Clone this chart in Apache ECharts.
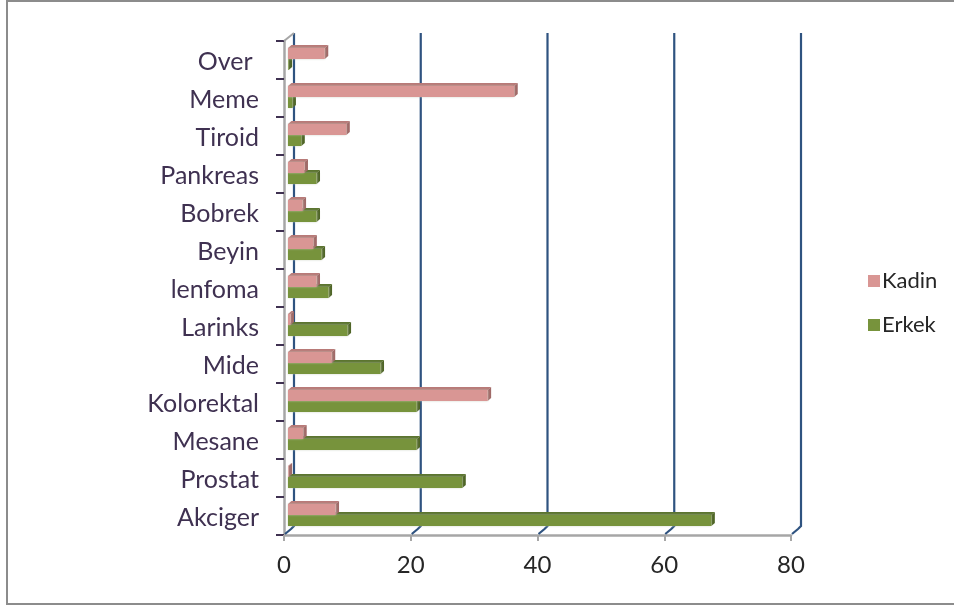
<!DOCTYPE html>
<html><head><meta charset="utf-8">
<style>html,body{margin:0;padding:0;background:#fff}#c{width:954px;height:605px}</style>
<script src="https://cdn.jsdelivr.net/npm/echarts@6/dist/echarts.min.js"></script>
</head><body><div id="c"></div>
<script>
const categories = ['Akciger','Prostat','Mesane','Kolorektal','Mide','Larinks','lenfoma','Beyin','Bobrek','Pankreas','Tiroid','Meme','Over '];
const kadin = [7.5,0.1,2.4,31.5,6.9,0.4,4.5,4.0,2.3,2.6,9.2,35.7,5.8];
const erkek = [66.8,27.5,20.3,20.3,14.6,9.4,6.4,5.3,4.5,4.5,2.1,0.7,0.1];
const ticks = [0,20,40,60,80];

const chart = echarts.init(document.getElementById('c'));
function bar(front, top, side, dy){
  return function(params, api){
    const v = api.value(0), c = api.value(1);
    const p0 = api.coord([0,c]), p1 = api.coord([v,c]);
    const x0 = p0[0]+4, x1 = p1[0]+4, h = 11, y0 = p0[1]+dy, dx = 3.5, d = 3;
    return {type:'group', children:[
      {type:'polygon', shape:{points:[[x0,y0],[x0+dx,y0-d],[x1+dx,y0-d],[x1,y0]]}, style:{fill:top}},
      {type:'polygon', shape:{points:[[x1,y0],[x1+dx,y0-d],[x1+dx,y0+h-d],[x1,y0+h]]}, style:{fill:side}},
      {type:'rect', shape:{x:x0,y:y0,width:x1-x0,height:h}, style:{fill:front, shadowBlur:2, shadowColor:'rgba(200,205,190,0.8)'}}
    ]};
  };
}
function walls(params, api){
  const g = params.coordSys, x = api.coord([api.value(0),0])[0];
  const t = g.y, b = g.y+g.height;
  return {type:'polyline', shape:{points:[[x+10,t-8],[x+10,b-9],[x+7,b-6],[x+1,b-1]]},
    style:{fill:null, stroke:'#2f5380', lineWidth:2.2}};
}
function corner(params, api){
  const g = params.coordSys;
  return {type:'line', shape:{x1:g.x,y1:g.y,x2:g.x+10,y2:g.y-8}, style:{stroke:'#a6a6a6', lineWidth:2}};
}
chart.setOption({
  animation:false,
  backgroundColor:'#fff',
  graphic:[
    {type:'line', shape:{x1:6,y1:1,x2:954,y2:1}, style:{stroke:'#8c8c8c', lineWidth:2}, silent:true},
    {type:'line', shape:{x1:7,y1:0,x2:7,y2:604}, style:{stroke:'#8c8c8c', lineWidth:2}, silent:true},
    {type:'line', shape:{x1:6,y1:604,x2:954,y2:604}, style:{stroke:'#8c8c8c', lineWidth:2}, silent:true}
  ],
  grid:{left:284, top:41, width:507, height:494, containLabel:false},
  xAxis:{type:'value', min:0, max:80, interval:20, splitLine:{show:false},
    axisLine:{show:true, lineStyle:{color:'#a6a6a6', width:2.5}},
    axisTick:{show:true, length:6, lineStyle:{color:'#a6a6a6', width:2}},
    axisLabel:{color:'#262626', fontFamily:'Lato', fontSize:24, margin:18}},
  yAxis:{type:'category', data:categories, inverse:false,
    axisLine:{show:true, lineStyle:{color:'#a6a6a6', width:2.5}},
    axisTick:{show:true, length:8, alignWithLabel:false, lineStyle:{color:'#3f3151', width:2}},
    axisLabel:{color:'#3f3151', fontFamily:'Lato', fontSize:25, margin:25, verticalAlign:'top', lineHeight:4}},
  legend:{orient:'vertical', left:863, top:265, icon:'rect', itemWidth:12, itemHeight:12, itemGap:22,
    selectedMode:false, data:['Kadin','Erkek'],
    textStyle:{color:'#262626', fontFamily:'Lato', fontSize:22, padding:[0,0,0,-3]}},
  series:[
    {type:'custom', name:'walls', z:1, silent:true, data:ticks.map(t=>[t]), encode:{x:0}, renderItem:walls},
    {type:'custom', name:'corner', z:1, silent:true, data:[[0]], encode:{x:0}, renderItem:corner},
    {type:'custom', name:'Erkek', z:3, itemStyle:{color:'#77933c'}, data:erkek.map((v,i)=>[v,i]), encode:{x:0,y:1},
      renderItem:bar('#77933c','#5c7530','#4f6527',-1)},
    {type:'custom', name:'Kadin', z:4, itemStyle:{color:'#d99694'}, data:kadin.map((v,i)=>[v,i]), encode:{x:0,y:1},
      renderItem:bar('#d99694','#b87a78','#a06a68',-12)}
  ]
});
</script></body></html>
